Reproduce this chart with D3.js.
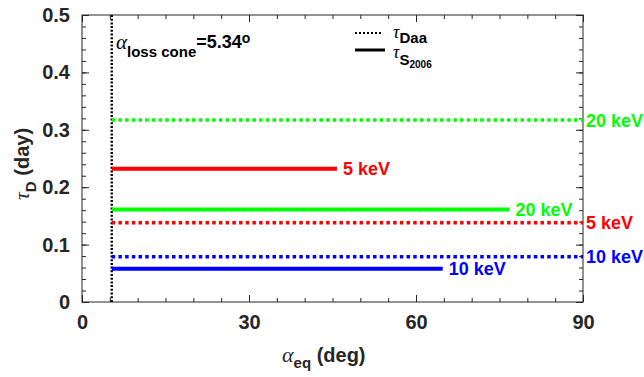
<!DOCTYPE html>
<html>
<head>
<meta charset="utf-8">
<script src="https://cdn.jsdelivr.net/npm/d3@7"></script>
<style>
  body { margin: 0; background: #fff; }
  text { font-family: "Liberation Sans", Arial, sans-serif; font-weight: bold; }
  .greek { font-family: "Liberation Serif", "Times New Roman", serif; font-style: italic; font-weight: normal; }
</style>
</head>
<body>
<script>
var width = 644,
    height = 377;

// data
var energies = ["5 keV", "10 keV", "20 keV"];
var colors = ["#ff0000", "#0000ff", "#00ff00"];
var daaValues = [0.138, 0.079, 0.317];      // tau_Daa, flat out to 90 deg
var s2006Values = [0.232, 0.058, 0.161];    // tau_S2006
var s2006End = [45.8, 64.8, 76.8];          // where the S2006 lines stop (deg)
var lossCone = 5.34;
var xTicks = [0, 30, 60, 90];
var yTicks = [0, 0.1, 0.2, 0.3, 0.4, 0.5];

var margin = {left: 82, right: 61, top: 15, bottom: 75};

var x = d3.scaleLinear().domain([0, 90]).range([margin.left, width - margin.right]);
var y = d3.scaleLinear().domain([0, 0.5]).range([height - margin.bottom, margin.top]);

var svg = d3.select("body").append("svg")
    .attr("width", width)
    .attr("height", height);

// axes, ticks inward
var fmtY = function(d) { return d === 0 ? "0" : d3.format(".1f")(d); };
var minorX = d3.range(0, 91, 5), minorY = d3.range(0, 0.501, 0.02);

function styleAxis(g) {
  g.select(".domain").remove();
  g.selectAll("line").attr("stroke", "#262626");
  g.selectAll("text").attr("fill", "#262626").style("font-size", "20px");
}

svg.append("g").attr("transform", "translate(0," + y(0) + ")")
    .call(d3.axisBottom(x).tickValues(minorX).tickSize(-4).tickFormat(""))
    .call(styleAxis);
svg.append("g").attr("transform", "translate(0," + y(0) + ")")
    .call(d3.axisBottom(x).tickValues(xTicks).tickSize(-7).tickPadding(13))
    .call(styleAxis);
svg.append("g").attr("transform", "translate(0," + y(0.5) + ")")
    .call(d3.axisTop(x).tickValues(minorX).tickSize(-4).tickFormat(""))
    .call(styleAxis);
svg.append("g").attr("transform", "translate(0," + y(0.5) + ")")
    .call(d3.axisTop(x).tickValues(xTicks).tickSize(-7).tickFormat(""))
    .call(styleAxis);
svg.append("g").attr("transform", "translate(" + x(0) + ",0)")
    .call(d3.axisLeft(y).tickValues(minorY).tickSize(-4).tickFormat(""))
    .call(styleAxis);
svg.append("g").attr("transform", "translate(" + x(0) + ",0)")
    .call(d3.axisLeft(y).tickValues(yTicks).tickSize(-7).tickPadding(12).tickFormat(fmtY))
    .call(styleAxis);
svg.append("g").attr("transform", "translate(" + x(90) + ",0)")
    .call(d3.axisRight(y).tickValues(minorY).tickSize(-4).tickFormat(""))
    .call(styleAxis);
svg.append("g").attr("transform", "translate(" + x(90) + ",0)")
    .call(d3.axisRight(y).tickValues(yTicks).tickSize(-7).tickFormat(""))
    .call(styleAxis);

svg.append("rect")
    .attr("x", x(0)).attr("y", y(0.5))
    .attr("width", x(90) - x(0)).attr("height", y(0) - y(0.5))
    .attr("fill", "none").attr("stroke", "#262626").attr("stroke-width", 1);

// loss cone
svg.append("line")
    .attr("x1", x(lossCone)).attr("x2", x(lossCone))
    .attr("y1", y(0.5)).attr("y2", y(0))
    .attr("stroke", "#000").attr("stroke-width", 2.4)
    .attr("stroke-dasharray", "2,1.7");

// tau_Daa dotted lines
svg.append("g").selectAll("line")
    .data(daaValues)
  .enter().append("line")
    .attr("x1", x(lossCone)).attr("x2", x(90))
    .attr("y1", function(d) { return y(d); })
    .attr("y2", function(d) { return y(d); })
    .attr("stroke", function(d, i) { return colors[i]; })
    .attr("stroke-width", 3.5)
    .attr("stroke-dasharray", "3.5,3.2");

svg.append("g").selectAll("text")
    .data(daaValues)
  .enter().append("text")
    .attr("x", x(90) + 3)
    .attr("y", function(d) { return y(d); })
    .attr("dy", "0.36em")
    .attr("fill", function(d, i) { return colors[i]; })
    .style("font-size", "18px")
    .text(function(d, i) { return energies[i]; });

// tau_S2006 solid lines
svg.append("g").selectAll("line")
    .data(s2006Values)
  .enter().append("line")
    .attr("x1", x(lossCone))
    .attr("x2", function(d, i) { return x(s2006End[i]); })
    .attr("y1", function(d) { return y(d); })
    .attr("y2", function(d) { return y(d); })
    .attr("stroke", function(d, i) { return colors[i]; })
    .attr("stroke-width", 4);

svg.append("g").selectAll("text")
    .data(s2006Values)
  .enter().append("text")
    .attr("x", function(d, i) { return x(s2006End[i]) + 6; })
    .attr("y", function(d) { return y(d); })
    .attr("dy", "0.36em")
    .attr("fill", function(d, i) { return colors[i]; })
    .style("font-size", "18px")
    .text(function(d, i) { return energies[i]; });

// loss cone label
var lc = svg.append("text").attr("x", 116).attr("y", 49).attr("fill", "#000");
lc.append("tspan").attr("class", "greek").style("font-size", "21px").text("\u03b1");
lc.append("tspan").attr("dy", 8).style("font-size", "15px").text("loss cone");
lc.append("tspan").attr("dy", -9).style("font-size", "18px").text("=5.34");
lc.append("tspan").attr("dy", -5).style("font-size", "14px").text("o");

// legend
svg.append("line").attr("x1", 355).attr("x2", 383).attr("y1", 33).attr("y2", 33)
    .attr("stroke", "#000").attr("stroke-width", 2).attr("stroke-dasharray", "2,2");
svg.append("line").attr("x1", 355).attr("x2", 385).attr("y1", 50).attr("y2", 50)
    .attr("stroke", "#000").attr("stroke-width", 3);
var l1 = svg.append("text").attr("x", 393).attr("y", 38).attr("fill", "#000");
l1.append("tspan").attr("class", "greek").style("font-size", "18px").text("\u03c4");
l1.append("tspan").attr("dy", 5).style("font-size", "15px").text("Daa");
var l2 = svg.append("text").attr("x", 393).attr("y", 58).attr("fill", "#000");
l2.append("tspan").attr("class", "greek").style("font-size", "18px").text("\u03c4");
l2.append("tspan").attr("dy", 7).style("font-size", "15px").text("S");
l2.append("tspan").attr("dy", 3).style("font-size", "10px").text("2006");

// axis titles
var xl = svg.append("text").attr("x", 282).attr("y", 362).attr("fill", "#262626");
xl.append("tspan").attr("class", "greek").style("font-size", "22px").text("\u03b1");
xl.append("tspan").attr("dy", 6).style("font-size", "15px").text("eq");
xl.append("tspan").attr("dy", -6).style("font-size", "20px").text(" (deg)");

var yl = svg.append("text")
    .attr("transform", "translate(29,200) rotate(-90)")
    .attr("fill", "#262626");
yl.append("tspan").attr("class", "greek").style("font-size", "22px").text("\u03c4");
yl.append("tspan").attr("dy", 7).style("font-size", "15px").text("D");
yl.append("tspan").attr("dy", -7).style("font-size", "20px").text(" (day)");
</script>
</body>
</html>
